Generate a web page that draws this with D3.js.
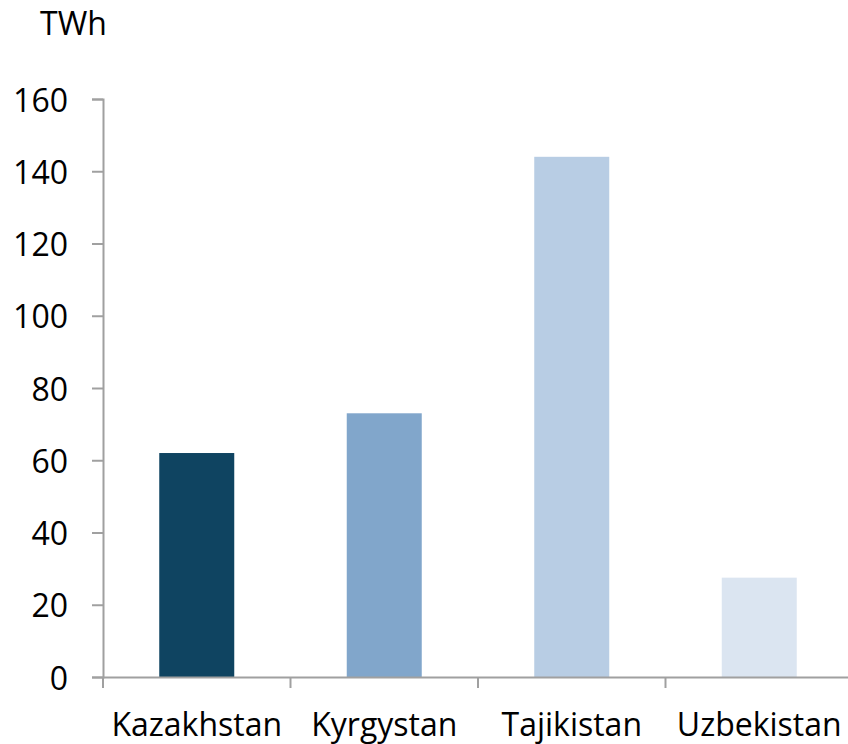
<!DOCTYPE html>
<html>
<head>
<meta charset="utf-8">
<script src="https://cdn.jsdelivr.net/npm/d3@7"></script>
<style>
  body { margin: 0; background: #fff; }
  text { font-family: "Open Sans", sans-serif; fill: #000; }
</style>
</head>
<body>
<svg id="chart" width="848" height="744"></svg>
<script>
const countries = ['Kazakhstan', 'Kyrgystan', 'Tajikistan', 'Uzbekistan'];
const twh = [62, 73, 144, 27.5];
const barColors = ['#0f4461', '#81a6cb', '#b8cde4', '#dbe5f1'];
const yTicks = [0, 20, 40, 60, 80, 100, 120, 140, 160];

const svg = d3.select('#chart');
const plotLeft = 103, plotRight = 853, plotTop = 99, plotBottom = 677;
const axisColor = '#a0a0a0';

const x = d3.scaleBand().domain(countries).range([plotLeft, plotRight]);
const y = d3.scaleLinear().domain([0, 160]).range([plotBottom, plotTop]);

// bars
const barW = x.bandwidth() * 0.4;
svg.selectAll('.bar')
  .data(countries)
  .enter().append('rect')
  .attr('class', 'bar')
  .attr('x', d => x(d) + (x.bandwidth() - barW) / 2)
  .attr('y', (d, i) => y(twh[i]))
  .attr('width', barW)
  .attr('height', (d, i) => y(0) - y(twh[i]))
  .attr('fill', (d, i) => barColors[i]);

// y axis
const yAxis = svg.append('g')
  .attr('transform', `translate(${plotLeft},0)`)
  .call(d3.axisLeft(y).tickValues(yTicks).tickSize(11).tickPadding(24));
yAxis.select('.domain').attr('stroke', axisColor).attr('stroke-width', 2);
yAxis.selectAll('.tick line').attr('stroke', axisColor).attr('stroke-width', 2);
yAxis.selectAll('.tick text')
  .style('font-size', '32px')
  .style('font-family', '"Open Sans", sans-serif')
  .attr('dy', '0.38em')
  .attr('fill', '#000');

// x axis
const xAxis = svg.append('g')
  .attr('transform', `translate(0,${plotBottom})`)
  .call(d3.axisBottom(x).tickSize(0).tickPadding(36));
xAxis.select('.domain').attr('stroke', axisColor).attr('stroke-width', 2);
xAxis.selectAll('.tick text')
  .style('font-size', '32px')
  .style('font-family', '"Open Sans", sans-serif')
  .attr('fill', '#000');

// category separator ticks at band edges
const edges = countries.map(d => x(d)).concat([x(countries[countries.length - 1]) + x.bandwidth()]);
svg.append('g').selectAll('line')
  .data(edges)
  .enter().append('line')
  .attr('x1', d => d).attr('x2', d => d)
  .attr('y1', plotBottom).attr('y2', plotBottom + 11)
  .attr('stroke', axisColor).attr('stroke-width', 2);

// unit label
svg.append('text')
  .attr('x', 40)
  .attr('y', 35)
  .style('font-size', '32px')
  .text('TWh');
</script>
</body>
</html>
